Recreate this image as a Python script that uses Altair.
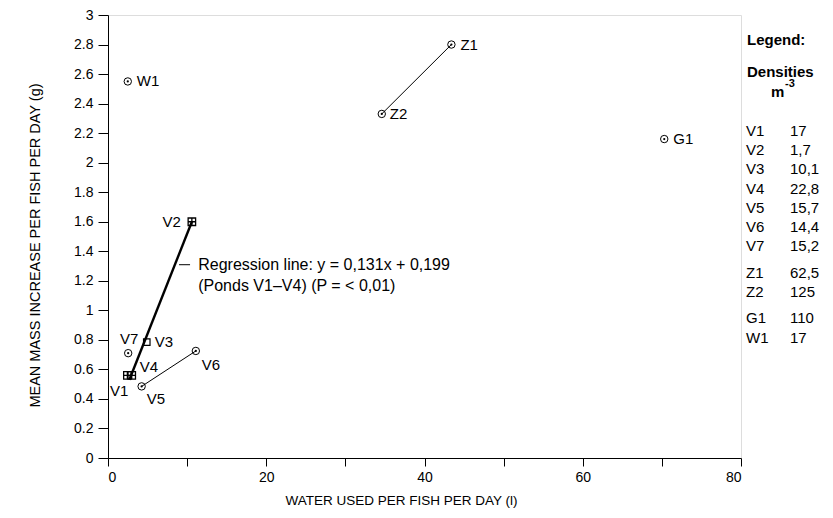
import altair as alt
import pandas as pd

# ---------------- data ----------------
point_names = ["W1", "Z1", "Z2", "G1", "V2", "V3", "V7", "V1", "V4", "V5", "V6"]
water_used = [2.5, 43.4, 34.6, 70.3, 10.6, 4.9, 2.55, 2.45, 3.0, 4.25, 11.1]
mass_increase = [2.55, 2.80, 2.33, 2.16, 1.60, 0.785, 0.71, 0.56, 0.56, 0.485, 0.725]
marker_kind = ["circle", "circle", "circle", "circle", "squareplus", "square",
               "circle", "squareplus", "squareplus", "circle", "circle"]

reg_x = [2.7, 10.6]
reg_y = [0.53, 1.60]

joined_pairs = [("Z1", "Z2"), ("V5", "V6")]

annot_lines = ["Regression line: y = 0,131x + 0,199", "(Ponds V1\u2013V4) (P = < 0,01)"]
annot_x = [11.4, 11.4]
annot_y = [1.309, 1.166]
dash_x = [8.98, 10.37]
dash_y = [1.309]

legend_names = ["V1", "V2", "V3", "V4", "V5", "V6", "V7", "Z1", "Z2", "G1", "W1"]
legend_values = ["17", "1,7", "10,1", "22,8", "15,7", "14,4", "15,2", "62,5", "125", "110", "\u00a0\u00a017"]
legend_groups = [0, 0, 0, 0, 0, 0, 0, 1, 1, 2, 2]

x_ticks = list(range(0, 81, 10))
y_ticks = [round(0.2 * i, 1) for i in range(16)]

# ---------------- layout / style ----------------
FONT = "Liberation Sans"
W, H = 633, 443
PAD_TOP = 7

pts = pd.DataFrame({"name": point_names, "x": water_used, "y": mass_increase, "kind": marker_kind})

xscale = alt.Scale(domain=[0, 80], nice=False, zero=True)
yscale = alt.Scale(domain=[0, 3], nice=False, zero=True)

X = alt.X("x:Q", scale=xscale, title="WATER USED PER FISH PER DAY (l)",
          axis=alt.Axis(values=x_ticks, labelExpr="datum.value % 20 === 0 ? datum.label : ''",
                        grid=False, tickSize=8, labelPadding=4, domainColor="black", tickColor="black",
                        labelColor="black", labelFont=FONT, labelFontSize=14,
                        titleFont=FONT, titleFontSize=13.5, titleFontWeight="normal", titleColor="black",
                        titleX=293, titleY=42, titleBaseline="middle", titleAlign="center"))
Y = alt.Y("y:Q", scale=yscale, title="MEAN MASS INCREASE PER FISH PER DAY (g)",
          axis=alt.Axis(values=y_ticks, format="~g", grid=False, tickSize=10, labelPadding=5,
                        domainColor="black", tickColor="black", labelColor="black",
                        labelFont=FONT, labelFontSize=14,
                        titleFont=FONT, titleFontSize=14.5, titleFontWeight="normal", titleColor="black",
                        titleX=-73, titleY=230, titleBaseline="middle", titleAlign="center"))

layers = []

# connecting thin lines
seg_rows = []
for k, (a, b) in enumerate(joined_pairs):
    for nm in (a, b):
        i = point_names.index(nm)
        seg_rows.append({"seg": k, "x": water_used[i], "y": mass_increase[i]})
segs = pd.DataFrame(seg_rows)
layers.append(alt.Chart(segs).mark_line(color="black", strokeWidth=1).encode(x=X, y=Y, detail="seg:N"))

# regression line
reg = pd.DataFrame({"x": reg_x, "y": reg_y})
layers.append(alt.Chart(reg).mark_line(color="black", strokeWidth=2.4).encode(x=X, y=Y))

# markers
base = alt.Chart(pts)
layers.append(base.transform_filter("datum.kind === 'circle'").mark_point(
    shape="circle", filled=False, size=55, color="black", strokeWidth=1, opacity=1).encode(x=X, y=Y))
layers.append(base.transform_filter("datum.kind === 'circle'").mark_point(
    shape="circle", filled=True, size=5, color="black", opacity=1).encode(x=X, y=Y))
layers.append(base.transform_filter("datum.kind === 'squareplus'").mark_point(
    shape="M-1,-1H1V1H-1ZM-1,0H1M0,-1V1", filled=False, size=56, color="black",
    strokeWidth=1.3, opacity=1).encode(x=X, y=Y))
layers.append(base.transform_filter("datum.kind === 'square'").mark_point(
    shape="square", filled=False, size=42, color="black", strokeWidth=1.2, opacity=1).encode(x=X, y=Y))

# point labels
label_pos = {
    "W1": (9, 0, "left"), "Z1": (9, 0, "left"), "Z2": (8, 0, "left"), "G1": (9, 0, "left"),
    "V2": (-11, 0, "right"), "V7": (1, -14, "center"), "V3": (8, 0, "left"),
    "V4": (8, -8, "left"), "V1": (1, 16, "right"), "V5": (5, 13, "left"), "V6": (6, 14, "left"),
}
for nm, (dx, dy, al) in label_pos.items():
    layers.append(base.transform_filter(f"datum.name === '{nm}'").mark_text(
        font=FONT, fontSize=15, color="black", align=al, baseline="middle", dx=dx, dy=dy
    ).encode(x=X, y=Y, text="name:N"))

# regression annotation
ann = pd.DataFrame({"x": annot_x, "y": annot_y, "t": annot_lines})
layers.append(alt.Chart(ann).mark_text(font=FONT, fontSize=16, color="black", align="left",
                                       baseline="middle").encode(x=X, y=Y, text="t:N"))
dash = pd.DataFrame({"x": [dash_x[0]], "x2": [dash_x[1]], "y": dash_y})
layers.append(alt.Chart(dash).mark_rule(color="black", strokeWidth=1).encode(x=X, x2="x2:Q", y=Y))

# legend on the right
row_px = []
for i, g in enumerate(legend_groups):
    row_px.append(131 + i * 19.2 + g * 7.3)  # absolute page y of each legend row
leg = pd.DataFrame({
    "name": legend_names, "val": legend_values,
    "y": [3 - (p - 8 - PAD_TOP) / H * 3 for p in row_px],
})
leg_base = alt.Chart(leg)
layers.append(leg_base.mark_text(font=FONT, fontSize=15, color="black", align="left", baseline="middle")
              .encode(x=alt.value(638), y=Y, text="name:N"))
layers.append(leg_base.mark_text(font=FONT, fontSize=15, color="black", align="left", baseline="middle")
              .encode(x=alt.value(682), y=Y, text="val:N"))

hdr = pd.DataFrame({"t": ["Legend:", "Densities", "m", "-3"],
                    "px": [639, 639, 663, 677], "py": [25, 57, 77, 69], "fs": [15, 15, 15, 11]})
for _, r in hdr.iterrows():
    layers.append(alt.Chart(pd.DataFrame({"t": [r.t]})).mark_text(
        font=FONT, fontSize=float(r.fs), fontWeight="bold", color="black", align="left", baseline="middle"
    ).encode(x=alt.value(int(r.px)), y=alt.value(int(r.py)), text="t:N"))

chart = alt.layer(*layers).properties(
    width=W, height=H,
    autosize=alt.AutoSizeParams(type="none"),
    padding={"left": 100, "top": PAD_TOP, "right": 84, "bottom": 52},
).configure_view(stroke="black", strokeWidth=1).configure(background="white")

chart.save("out.html", embed_options={"renderer": "svg", "actions": False})
